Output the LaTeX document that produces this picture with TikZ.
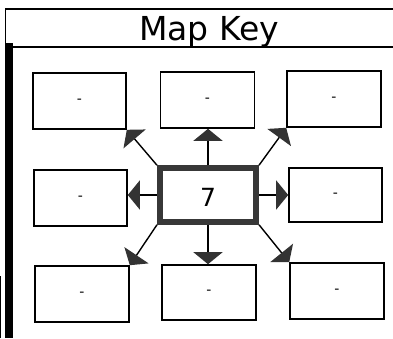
\documentclass[tikz,border=0pt]{standalone}
\usepackage{fontspec}
\setmainfont{DejaVu Sans}
\usetikzlibrary{arrows.meta}
\begin{document}
\begin{tikzpicture}[x=1pt,y=-1pt,
  keybox/.style={draw=black,line width=1.6pt,minimum width=93pt,minimum height=56pt,inner sep=0pt,font=\fontsize{14}{16}\selectfont},
  centerbox/.style={draw=black!78,line width=6pt,minimum width=96pt,minimum height=53.5pt,inner sep=0pt},
  arr/.style={line width=1.4pt,-{Triangle[length=12pt,width=29pt,fill=black!80,color=black!80]}},
  frame/.style={line width=1.5pt}]
\useasboundingbox (0,0) rectangle (393,338);
% frame
\draw[frame] (5,9) -- (393,9);
\draw[frame] (5,47) -- (393,47);
\draw[frame] (5.5,9) -- (5.5,47);
\draw[line width=8pt] (9,43) -- (9,338);
\draw[line width=1.2pt] (0.6,276) -- (0.6,338);
\node[anchor=base,font=\fontsize{33}{36}\selectfont] (title) at (209,40) {Map Key};
% boxes
\node[keybox] (tl) at (79.5,101) {-};
\node[keybox,minimum width=94pt] (tm) at (207.5,100) {-};
\node[keybox,minimum width=94pt] (tr) at (334,99) {-};
\node[keybox] (ml) at (80.5,198) {-};
\node[centerbox] (c) at (208,195) {};
\node[anchor=base,font=\fontsize{25}{28}\selectfont] (seven) at (208,206) {7};
\node[keybox,minimum height=54pt] (mr) at (335.5,195) {-};
\node[keybox,minimum width=94pt] (bl) at (82,294) {-};
\node[keybox,minimum width=94pt,minimum height=55pt] (bm) at (209,292.5) {-};
\node[keybox,minimum width=94pt] (br) at (337,291) {-};
% arrows
\draw[arr] (c.north west) -- (tl.south east);
\draw[arr] (c.north) -- (c.north |- tm.south);
\draw[arr] (c.north east) -- (tr.south west);
\draw[arr] (c.west) -- (c.west -| ml.east);
\draw[arr] (c.east) -- (c.east -| mr.west);
\draw[arr] (c.south west) -- (bl.north east);
\draw[arr] (c.south) -- (c.south |- bm.north);
\draw[arr] (c.south east) -- (br.north west);
\end{tikzpicture}
\end{document}
